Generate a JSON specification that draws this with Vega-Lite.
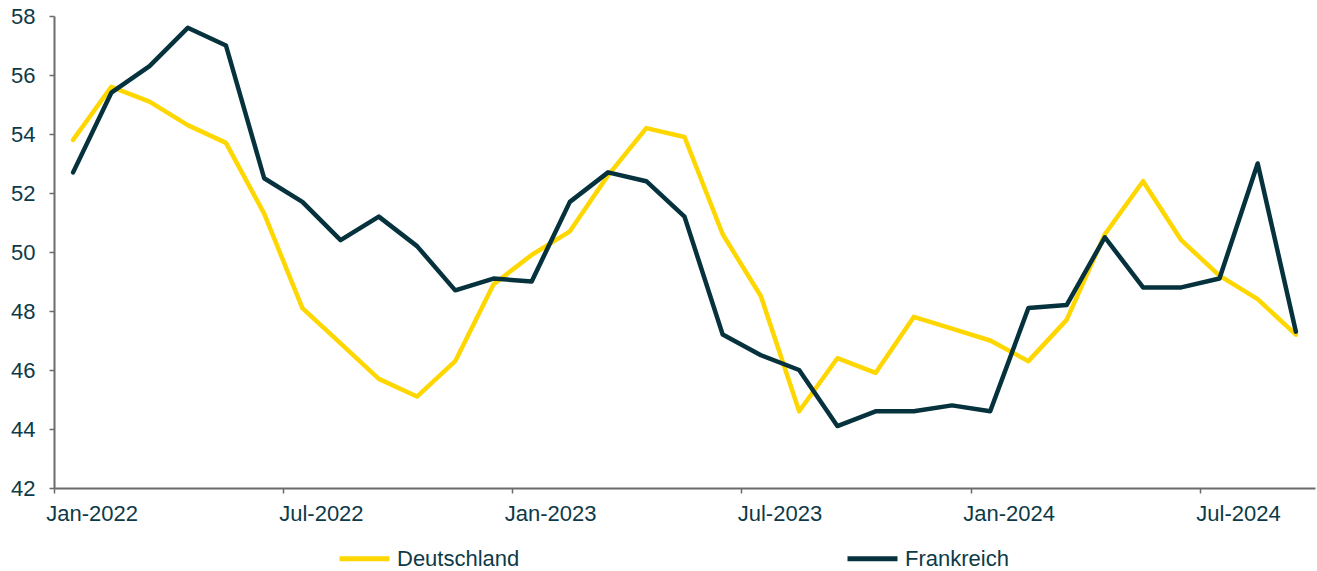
{
  "$schema": "https://vega.github.io/schema/vega-lite/v6.json",
  "width": 1261,
  "height": 472,
  "autosize": "none",
  "padding": {"left": 54, "top": 16, "right": 2, "bottom": 83},
  "background": "white",
  "config": {
    "view": {"stroke": null},
    "font": "Liberation Sans",
    "axis": {"grid": false, "domainColor": "#6b6b6b", "domainWidth": 2, "tickColor": "#6b6b6b", "tickWidth": 1.5, "tickSize": 5, "labelColor": "#0E3A48", "labelFont": "Liberation Sans", "labelFontSize": 22, "title": null},
    "legend": {"labelFont": "Liberation Sans", "labelFontSize": 22, "labelColor": "#0E3A48"}
  },
  "data": {"values": [
    {"month": "Jan-2022", "country": "Deutschland", "value": 53.8}, {"month": "Jan-2022", "country": "Frankreich", "value": 52.7},
    {"month": "Feb-2022", "country": "Deutschland", "value": 55.6}, {"month": "Feb-2022", "country": "Frankreich", "value": 55.4},
    {"month": "Mar-2022", "country": "Deutschland", "value": 55.1}, {"month": "Mar-2022", "country": "Frankreich", "value": 56.3},
    {"month": "Apr-2022", "country": "Deutschland", "value": 54.3}, {"month": "Apr-2022", "country": "Frankreich", "value": 57.6},
    {"month": "May-2022", "country": "Deutschland", "value": 53.7}, {"month": "May-2022", "country": "Frankreich", "value": 57.0},
    {"month": "Jun-2022", "country": "Deutschland", "value": 51.3}, {"month": "Jun-2022", "country": "Frankreich", "value": 52.5},
    {"month": "Jul-2022", "country": "Deutschland", "value": 48.1}, {"month": "Jul-2022", "country": "Frankreich", "value": 51.7},
    {"month": "Aug-2022", "country": "Deutschland", "value": 46.9}, {"month": "Aug-2022", "country": "Frankreich", "value": 50.4},
    {"month": "Sep-2022", "country": "Deutschland", "value": 45.7}, {"month": "Sep-2022", "country": "Frankreich", "value": 51.2},
    {"month": "Oct-2022", "country": "Deutschland", "value": 45.1}, {"month": "Oct-2022", "country": "Frankreich", "value": 50.2},
    {"month": "Nov-2022", "country": "Deutschland", "value": 46.3}, {"month": "Nov-2022", "country": "Frankreich", "value": 48.7},
    {"month": "Dec-2022", "country": "Deutschland", "value": 48.9}, {"month": "Dec-2022", "country": "Frankreich", "value": 49.1},
    {"month": "Jan-2023", "country": "Deutschland", "value": 49.9}, {"month": "Jan-2023", "country": "Frankreich", "value": 49.0},
    {"month": "Feb-2023", "country": "Deutschland", "value": 50.7}, {"month": "Feb-2023", "country": "Frankreich", "value": 51.7},
    {"month": "Mar-2023", "country": "Deutschland", "value": 52.6}, {"month": "Mar-2023", "country": "Frankreich", "value": 52.7},
    {"month": "Apr-2023", "country": "Deutschland", "value": 54.2}, {"month": "Apr-2023", "country": "Frankreich", "value": 52.4},
    {"month": "May-2023", "country": "Deutschland", "value": 53.9}, {"month": "May-2023", "country": "Frankreich", "value": 51.2},
    {"month": "Jun-2023", "country": "Deutschland", "value": 50.6}, {"month": "Jun-2023", "country": "Frankreich", "value": 47.2},
    {"month": "Jul-2023", "country": "Deutschland", "value": 48.5}, {"month": "Jul-2023", "country": "Frankreich", "value": 46.5},
    {"month": "Aug-2023", "country": "Deutschland", "value": 44.6}, {"month": "Aug-2023", "country": "Frankreich", "value": 46.0},
    {"month": "Sep-2023", "country": "Deutschland", "value": 46.4}, {"month": "Sep-2023", "country": "Frankreich", "value": 44.1},
    {"month": "Oct-2023", "country": "Deutschland", "value": 45.9}, {"month": "Oct-2023", "country": "Frankreich", "value": 44.6},
    {"month": "Nov-2023", "country": "Deutschland", "value": 47.8}, {"month": "Nov-2023", "country": "Frankreich", "value": 44.6},
    {"month": "Dec-2023", "country": "Deutschland", "value": 47.4}, {"month": "Dec-2023", "country": "Frankreich", "value": 44.8},
    {"month": "Jan-2024", "country": "Deutschland", "value": 47.0}, {"month": "Jan-2024", "country": "Frankreich", "value": 44.6},
    {"month": "Feb-2024", "country": "Deutschland", "value": 46.3}, {"month": "Feb-2024", "country": "Frankreich", "value": 48.1},
    {"month": "Mar-2024", "country": "Deutschland", "value": 47.7}, {"month": "Mar-2024", "country": "Frankreich", "value": 48.2},
    {"month": "Apr-2024", "country": "Deutschland", "value": 50.6}, {"month": "Apr-2024", "country": "Frankreich", "value": 50.5},
    {"month": "May-2024", "country": "Deutschland", "value": 52.4}, {"month": "May-2024", "country": "Frankreich", "value": 48.8},
    {"month": "Jun-2024", "country": "Deutschland", "value": 50.4}, {"month": "Jun-2024", "country": "Frankreich", "value": 48.8},
    {"month": "Jul-2024", "country": "Deutschland", "value": 49.2}, {"month": "Jul-2024", "country": "Frankreich", "value": 49.1},
    {"month": "Aug-2024", "country": "Deutschland", "value": 48.4}, {"month": "Aug-2024", "country": "Frankreich", "value": 53.0},
    {"month": "Sep-2024", "country": "Deutschland", "value": 47.2}, {"month": "Sep-2024", "country": "Frankreich", "value": 47.3}
  ]},
  "mark": {"type": "line", "strokeWidth": 4.5, "strokeJoin": "round", "strokeCap": "round"},
  "encoding": {
    "x": {
      "field": "month", "type": "ordinal", "sort": null,
      "scale": {"type": "band", "paddingInner": 0, "paddingOuter": 0},
      "bandPosition": 0.5,
      "axis": {"values": ["Jan-2022", "Jul-2022", "Jan-2023", "Jul-2023", "Jan-2024", "Jul-2024"], "bandPosition": 0, "labelOffset": 19, "labelAngle": 0, "labelPadding": 10, "labelAlign": "center"}
    },
    "y": {
      "field": "value", "type": "quantitative",
      "scale": {"domain": [42, 58], "nice": false, "zero": false},
      "axis": {"values": [42, 44, 46, 48, 50, 52, 54, 56, 58], "labelPadding": 14}
    },
    "color": {
      "field": "country", "type": "nominal",
      "scale": {"domain": ["Deutschland", "Frankreich"], "range": ["#FFD700", "#06323E"]},
      "legend": {"title": null, "orient": "none", "legendX": 283, "legendY": 515, "direction": "horizontal", "symbolType": "stroke", "symbolSize": 2500, "symbolStrokeWidth": 5, "labelOffset": 5, "columnPadding": 317, "padding": 0}
    }
  }
}
